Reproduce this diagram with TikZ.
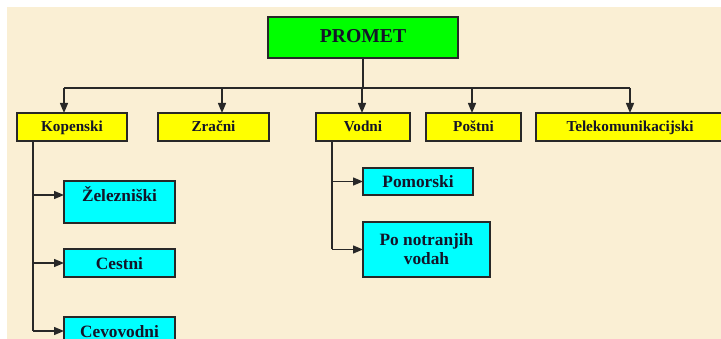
\documentclass[tikz,border=0pt]{standalone}
\usepackage{fontspec}
\setmainfont{Liberation Serif}
\usetikzlibrary{arrows.meta}
\definecolor{bg}{RGB}{250,239,212}
\definecolor{boxgreen}{RGB}{0,255,0}
\definecolor{boxyellow}{RGB}{255,255,0}
\definecolor{boxcyan}{RGB}{0,255,255}
\definecolor{ink}{RGB}{20,20,40}
\definecolor{edge}{RGB}{40,40,40}
\tikzset{
  boxbase/.style={draw=edge, line width=1.4pt, inner sep=0pt, outer sep=0pt, text=ink, font=\bfseries},
  topbox/.style={boxbase, fill=boxgreen, text height=14pt, text depth=4.4pt, font=\fontsize{19.7}{22}\selectfont\bfseries},
  catbox/.style={boxbase, fill=boxyellow, minimum height=28pt, text height=12pt, text depth=2.6pt, font=\fontsize{15.2}{18}\selectfont\bfseries},
  subbox/.style={boxbase, fill=boxcyan, font=\fontsize{17.3}{19}\selectfont\bfseries, align=center},
  onebox/.style={subbox, text height=13.5pt, text depth=0.5pt},
  conn/.style={draw=edge, line width=1.4pt},
  arr/.style={conn, -{Triangle[length=10pt,width=8pt]}}
}
\begin{document}
\begin{tikzpicture}[x=1pt,y=-1pt]
\clip (0,0) rectangle (721,339);
\fill[white] (0,0) rectangle (721,339);
\fill[bg] (7,7) rectangle (721,339);
% nodes
\node[topbox, minimum width=190pt, minimum height=41pt] (promet) at (363,37.5) {PROMET};
\node[catbox, minimum width=110pt] (kop) at (72,127) {Kopenski};
\node[catbox, minimum width=111pt] (zra) at (213.5,127) {Zračni};
\node[catbox, minimum width=94pt] (vod) at (363,127) {Vodni};
\node[catbox, minimum width=95pt] (pos) at (473.5,127) {Poštni};
\node[catbox, minimum width=188pt] (tel) at (630,127) {Telekomunikacijski};
\node[subbox, minimum width=111pt, minimum height=42pt, text height=8pt, text depth=8pt] (zel) at (119.5,202) {Železniški};
\node[onebox, minimum width=111pt, minimum height=28pt] (ces) at (119.5,263) {Cestni};
\node[onebox, minimum width=111pt, minimum height=28pt] (cev) at (119.5,331) {Cevovodni};
\node[onebox, minimum width=110pt, minimum height=27pt] (pom) at (418,181.5) {Pomorski};
\node[subbox, minimum width=127pt, minimum height=55pt] (pnv) at (426.5,249.5) {Po notranjih\\vodah};
% bus from PROMET
\coordinate (bus) at (363,88);
\coordinate (b1) at (64,88);
\coordinate (b2) at (222,88);
\coordinate (b3) at (362,88);
\coordinate (b4) at (472,88);
\coordinate (b5) at (630,88);
\draw[conn] (promet.south) -- (bus);
\draw[conn] (b1) -- (b5);
\draw[arr] (b1) -- (b1 |- kop.north);
\draw[arr] (b2) -- (b2 |- zra.north);
\draw[arr] (b3) -- (b3 |- vod.north);
\draw[arr] (b4) -- (b4 |- pos.north);
\draw[arr] (b5) -- (b5 |- tel.north);
% Kopenski branch
\coordinate (kv) at ([xshift=-39pt]kop.south);
\coordinate (zelin) at ([yshift=7pt]zel.west);
\draw[conn] (kv) -- (kv |- cev.west);
\draw[arr] (kv |- zelin) -- (zelin);
\draw[arr] (kv |- ces.west) -- (ces.west);
\draw[arr] (kv |- cev.west) -- (cev.west);
% Vodni branch
\coordinate (vv) at ([xshift=-31pt]vod.south);
\draw[conn] (vv) -- (vv |- pnv.west);
\draw[arr] (vv |- pom.west) -- (pom.west);
\draw[arr] (vv |- pnv.west) -- (pnv.west);
\end{tikzpicture}
\end{document}
